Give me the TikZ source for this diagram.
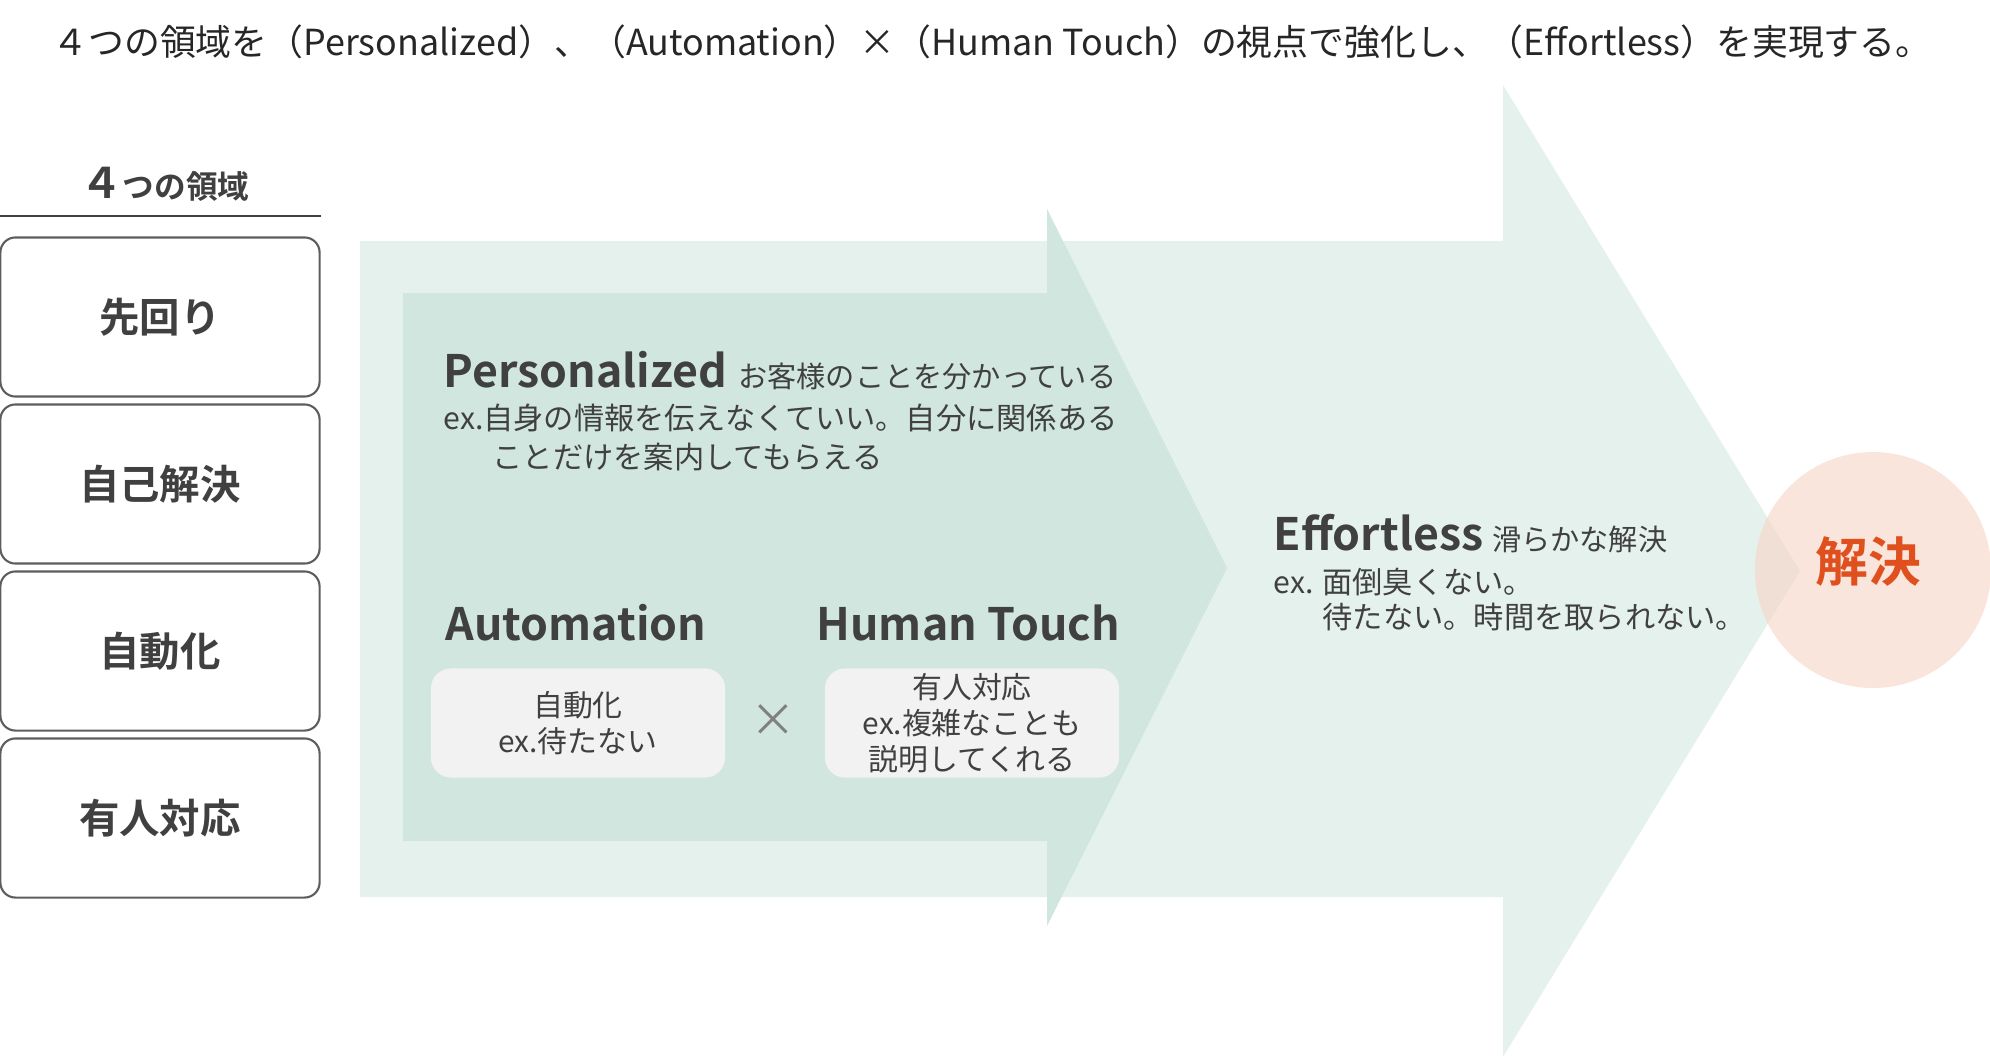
\documentclass[tikz,border=0pt]{standalone}
\usepackage{fontspec}
\setmainfont{Noto Sans CJK JP}[BoldFont={Noto Sans CJK JP Bold}]
\usepackage{xcolor}
\usepackage{tikz}
\usetikzlibrary{positioning}

\definecolor{textgray}{HTML}{404040}
\definecolor{outergreen}{HTML}{E5F1ED}
\definecolor{innergreen}{HTML}{D0E6DF}
\definecolor{boxgray}{HTML}{F2F2F2}
\definecolor{resolvefill}{HTML}{F7D3C5}
\definecolor{resolveorange}{HTML}{E0501E}

\begin{document}
\begin{tikzpicture}[x=0.01cm, y=-0.01cm,
    areabox/.style={rectangle, draw=textgray!85, line width=0.6pt, rounded corners=0.15cm, minimum width=3.19cm, minimum height=1.59cm, align=center, font=\bfseries\fontsize{11.5}{13}\selectfont, text=textgray},
    viewbox/.style={rectangle, fill=boxgray, rounded corners=0.2cm, minimum width=2.94cm, minimum height=1.09cm, align=center, font=\fontsize{8.5}{10.2}\selectfont, text=textgray, inner sep=0pt},
    heading/.style={anchor=base west, inner sep=0pt, text=textgray, font=\bfseries\fontsize{12.7}{15}\selectfont},
    note/.style={anchor=base west, inner sep=0pt, text=textgray, font=\fontsize{8.6}{10}\selectfont}
]
    \useasboundingbox (0,0) rectangle (1990,1057);

    % big arrows
    \fill[outergreen] (360,241) -- (1503,241) -- (1503,85) -- (1800,571) -- (1503,1057) -- (1503,897) -- (360,897) -- cycle;
    \fill[innergreen] (403,293) -- (1047,293) -- (1047,209) -- (1227,568) -- (1047,926) -- (1047,841) -- (403,841) -- cycle;
    \fill[resolvefill, opacity=0.6] (1873,570) circle (118);

    \node[text=black!85, font=\fontsize{10.2}{12}\selectfont] (title) at (992,42) {４つの領域を（Personalized）、（Automation）×（Human Touch）の視点で強化し、（Effortless）を実現する。};

    % left column
    \node[text=textgray, font=\bfseries] (areahead) at (165,184) {{\fontsize{12}{14}\selectfont ４}{\fontsize{9}{11}\selectfont つの領域}};
    \coordinate (lineL) at (0,216);
    \coordinate (lineR) at (321,216);
    \draw[textgray, line width=0.5pt] (lineL) -- (lineR);

    \node[areabox] (ahead) at (160,317) {先回り};
    \node[areabox] (self) at (160,484) {自己解決};
    \node[areabox] (auto) at (160,651) {自動化};
    \node[areabox] (human) at (160,818) {有人対応};

    % inner arrow texts
    \node[heading] (pers) at (443,387) {Personalized\hspace{0.25em}{\mdseries\fontsize{8.3}{10}\selectfont お客様のことを分かっている}};
    \node[note] (persex) at (443,429) {ex.自身の情報を伝えなくていい。自分に関係ある};
    \node[note] (persex2) at (492,468) {ことだけを案内してもらえる};

    \node[heading] (autohead) at (445,640) {Automation};
    \node[heading] (humanhead) at (816,640) {Human Touch};
    \node[viewbox] (autobox) at (578,723) {自動化\\ex.待たない};
    \node[text=black!50, font=\fontsize{13}{15}\selectfont] (times) at (773,721) {×};
    \node[viewbox] (humanbox) at (972,723) {有人対応\\ex.複雑なことも\\説明してくれる};

    % outer arrow texts
    \node[heading] (effort) at (1273,550) {Effortless\hspace{0.2em}{\mdseries\fontsize{8.3}{10}\selectfont 滑らかな解決}};
    \node[note] (effortex) at (1273,593) {ex. 面倒臭くない。};
    \node[note] (effortex2) at (1322,628) {待たない。時間を取られない。};

    \node[text=resolveorange, font=\bfseries\fontsize{15}{17}\selectfont] (resolve) at (1868,562) {解決};
\end{tikzpicture}
\end{document}
